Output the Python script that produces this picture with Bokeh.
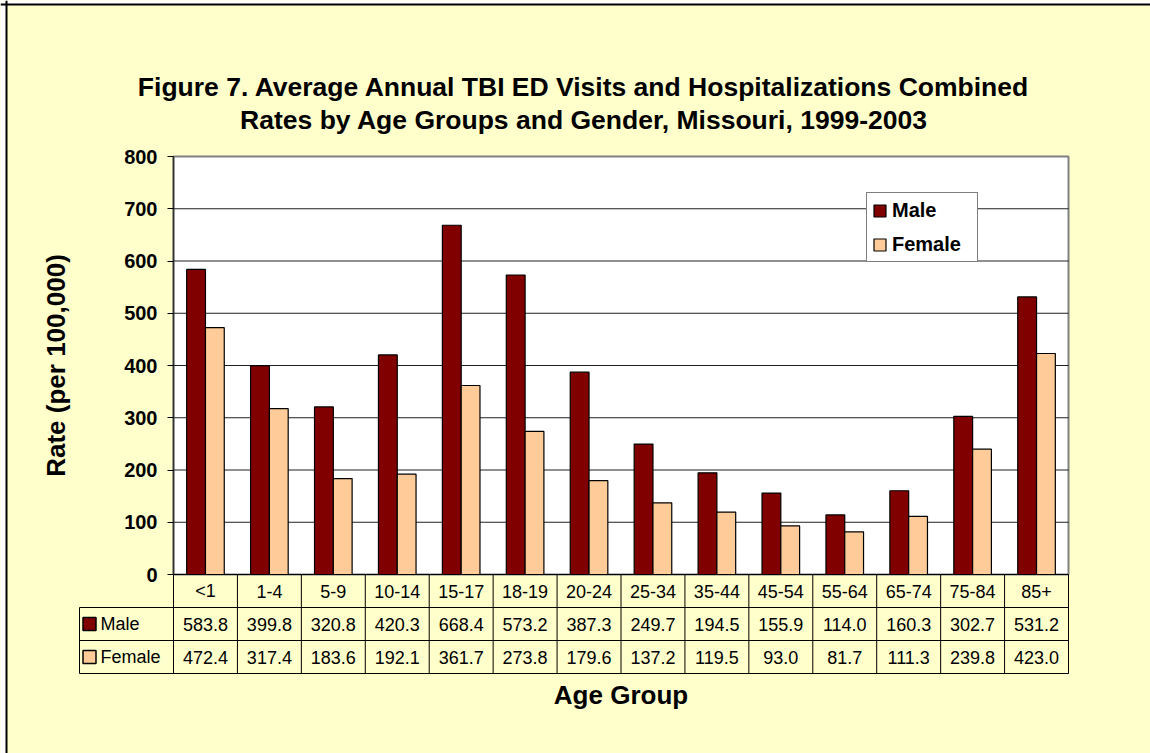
import numpy as np
from bokeh.plotting import figure
from bokeh.models import (Range1d, FixedTicker, Legend, LegendItem, Label,
                          BoxAnnotation, Span, ColumnDataSource)
from bokeh.core.properties import value
from bokeh.embed import file_html
from bokeh.resources import INLINE

# ---------------- data ----------------
categories = ["<1", "1-4", "5-9", "10-14", "15-17", "18-19", "20-24",
              "25-34", "35-44", "45-54", "55-64", "65-74", "75-84", "85+"]
male = [583.8, 399.8, 320.8, 420.3, 668.4, 573.2, 387.3,
        249.7, 194.5, 155.9, 114.0, 160.3, 302.7, 531.2]
female = [472.4, 317.4, 183.6, 192.1, 361.7, 273.8, 179.6,
          137.2, 119.5, 93.0, 81.7, 111.3, 239.8, 423.0]
y_ticks = [0, 100, 200, 300, 400, 500, 600, 700, 800]
series_names = ["Male", "Female"]
title_lines = ["Figure 7. Average Annual TBI ED Visits and Hospitalizations Combined",
               "Rates by Age Groups and Gender, Missouri, 1999-2003"]
y_label = "Rate (per 100,000)"
x_label = "Age Group"

# ---------------- style / layout (pixels) ----------------
FONT = "Liberation Sans"
BG = "#FFFFCC"
colors = ["#800000", "#FFCC99"]

W, H = 1150, 753
PLOT_L, PLOT_R, PLOT_T, PLOT_B = 173, 1068, 156, 574   # plot area in pixels
TABLE_L = 79
ROW_PX = 33
BAR_W = 0.294

n = len(categories)
ymax = y_ticks[-1]
idx = np.arange(n)
xppu = (PLOT_R - PLOT_L) / n          # pixels per category
yppu = (PLOT_B - PLOT_T) / ymax       # pixels per rate unit
ROW = ROW_PX / yppu                   # table row height in data units
LABEL_COL = (PLOT_L - TABLE_L) / xppu

# the frame covers the whole canvas; plot area / table are placed by the scales
p = figure(width=W, height=H, title=None,
           x_range=Range1d(-PLOT_L / xppu, n + (W - PLOT_R) / xppu),
           y_range=Range1d(-(H - PLOT_B) / yppu, ymax + PLOT_T / yppu),
           output_backend="svg", toolbar_location=None,
           min_border_left=0, min_border_right=0, min_border_top=0, min_border_bottom=0,
           background_fill_color=BG, border_fill_color=BG,
           outline_line_color=None)
p.xgrid.visible = False
p.ygrid.visible = False

# white margin outside the chart area's top-left edge, and the black edge lines
p.add_layout(BoxAnnotation(left=0, right=6, top=H, bottom=0,
                           left_units="screen", right_units="screen",
                           top_units="screen", bottom_units="screen",
                           fill_color="white", fill_alpha=1, line_color=None,
                           level="image"))
p.add_layout(BoxAnnotation(left=0, right=W, top=H, bottom=H - 4,
                           left_units="screen", right_units="screen",
                           top_units="screen", bottom_units="screen",
                           fill_color="white", fill_alpha=1, line_color=None,
                           level="image"))
p.add_layout(Span(location=6, dimension="height", location_units="screen",
                  line_color="black", line_width=2))
p.add_layout(Span(location=H - 4, dimension="width", location_units="screen",
                  line_color="black", line_width=2))

# white plot area
p.quad(left=0, right=n, bottom=0, top=ymax, fill_color="white",
       line_color="#808080", line_width=2)
# horizontal gridlines
p.segment(x0=0, x1=n, y0=y_ticks[1:-1], y1=y_ticks[1:-1],
          line_color="#202020", line_width=1)

# y axis drawn at x = 0
ya = p.yaxis[0]
ya.fixed_location = 0
ya.bounds = (0, ymax)
ya.ticker = FixedTicker(ticks=y_ticks)
ya.major_tick_out = 6
ya.major_tick_in = 0
ya.minor_tick_out = 0
ya.minor_tick_in = 0
ya.major_tick_line_color = "black"
ya.axis_line_color = "#303030"
ya.axis_line_width = 1.5
ya.major_label_standoff = 10
ya.major_label_text_font = FONT
ya.major_label_text_font_size = "20px"
ya.major_label_text_font_style = "bold"
ya.major_label_text_color = "black"
ya.axis_label = y_label
ya.axis_label_text_font = FONT
ya.axis_label_text_font_size = "26px"
ya.axis_label_text_font_style = "bold"
ya.axis_label_text_color = "black"
ya.axis_label_standoff = 50

# x axis drawn along the bottom of the data table (only its title is shown)
xa = p.xaxis[0]
xa.fixed_location = -3 * ROW
xa.bounds = (0, n)
xa.ticker = FixedTicker(ticks=[])
xa.major_tick_out = 0
xa.major_tick_in = 0
xa.minor_tick_out = 0
xa.minor_tick_in = 0
xa.axis_line_color = "black"
xa.axis_line_width = 1
xa.axis_label = x_label
xa.axis_label_text_font = FONT
xa.axis_label_text_font_size = "26px"
xa.axis_label_text_font_style = "bold"
xa.axis_label_text_color = "black"
xa.axis_label_standoff = 6

# bars
src = ColumnDataSource(dict(xm=idx + 0.5 - BAR_W / 2, xf=idx + 0.5 + BAR_W / 2,
                            male=male, female=female))
rm = p.vbar(x="xm", top="male", bottom=0, width=BAR_W, source=src,
            fill_color=colors[0], line_color="black", line_width=1.2)
rf = p.vbar(x="xf", top="female", bottom=0, width=BAR_W, source=src,
            fill_color=colors[1], line_color="black", line_width=1.2)

# data table grid
p.segment(x0=0, x1=n, y0=0, y1=0, line_color="black", line_width=1)
p.segment(x0=-LABEL_COL, x1=n, y0=[-ROW, -2 * ROW, -3 * ROW],
          y1=[-ROW, -2 * ROW, -3 * ROW], line_color="black", line_width=1)
p.segment(x0=np.arange(0, n + 1), x1=np.arange(0, n + 1), y0=-3 * ROW, y1=0,
          line_color="black", line_width=1)
p.segment(x0=-LABEL_COL, x1=-LABEL_COL, y0=-3 * ROW, y1=-ROW,
          line_color="black", line_width=1)

# data table texts
p.text(x=idx + 0.5, y=-0.5 * ROW, text=categories, text_align="center",
       text_baseline="middle", text_font=value(FONT), text_font_size="18px",
       text_color="black")
for r, vals in enumerate([male, female]):
    p.text(x=idx + 0.5, y=-(1.5 + r) * ROW, text=[f"{v:.1f}" for v in vals],
           text_align="center", text_baseline="middle", text_font=value(FONT),
           text_font_size="18px", text_color="black")

# row labels with colour keys
KEY_DX = 10 / xppu
p.rect(x=-LABEL_COL + KEY_DX, y=[-1.5 * ROW, -2.5 * ROW], width=13, height=13,
       width_units="screen", height_units="screen", fill_color=colors,
       line_color="black", line_width=1.5)
p.text(x=-LABEL_COL, y=[-1.5 * ROW, -2.5 * ROW], x_offset=21, text=series_names,
       text_align="left", text_baseline="middle", text_font=value(FONT),
       text_font_size="18px", text_color="black")

# legend
leg = Legend(items=[LegendItem(label=series_names[0], renderers=[rm]),
                    LegendItem(label=series_names[1], renderers=[rf])],
             location=(866, H - 262), margin=0, padding=5, spacing=10,
             glyph_width=15, glyph_height=15, label_height=24, label_width=80,
             label_standoff=5, label_text_font=FONT, label_text_font_size="20px",
             label_text_font_style="bold", label_text_color="black",
             border_line_color="black", border_line_width=1,
             background_fill_color="white", background_fill_alpha=1)
p.add_layout(leg)

# two-line title centred on the chart area
for i, (line, base) in enumerate(zip(title_lines, [86, 119])):
    p.add_layout(Label(x=583.5, y=H - base, x_units="screen", y_units="screen",
                       text=line, text_align="center", text_baseline="alphabetic",
                       text_font=FONT, text_font_size="26.5px",
                       text_font_style="bold", text_color="black"))

open("out.html", "w").write(file_html(p, INLINE))
